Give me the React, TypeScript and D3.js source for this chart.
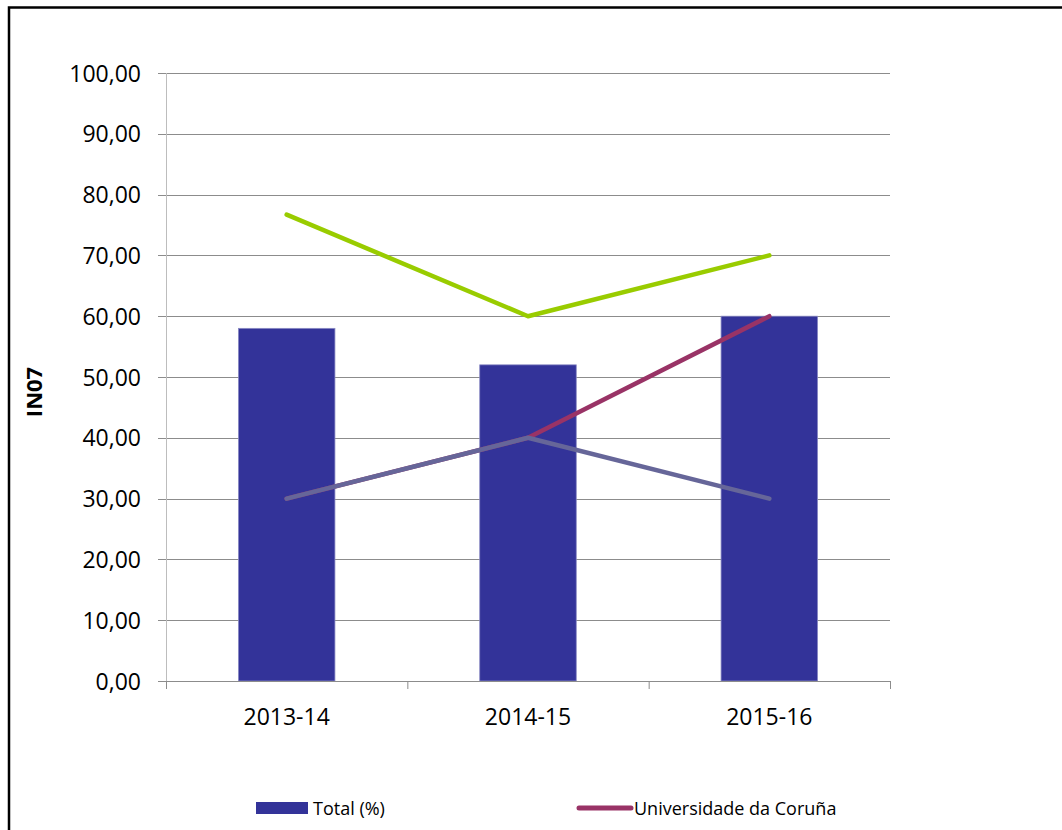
import React from "react";
import * as d3 from "d3";

const categories = ["2013-14", "2014-15", "2015-16"];
const totalPct = [58, 52, 60];
const universidade = [30, 40, 60];
const seriesGrey = [30, 40, 30];
const seriesGreen = [76.7, 60, 70];
const yTicks = [0, 10, 20, 30, 40, 50, 60, 70, 80, 90, 100];
const legendItems = [
  { label: "Total (%)", kind: "bar", color: "#333399" },
  { label: "Universidade da Coruña", kind: "line", color: "#993366" },
];

const W = 1062;
const H = 830;
const plot = { left: 166, right: 890, top: 73, bottom: 681 };
const FONT = "'Open Sans', 'Liberation Sans', sans-serif";

export default function App() {
  const x = d3
    .scaleBand<string>()
    .domain(categories)
    .range([plot.left, plot.right])
    .padding(0);
  const y = d3.scaleLinear().domain([0, 100]).range([plot.bottom, plot.top]);
  const bw = x.bandwidth() * 0.4;
  const cx = (c: string) => (x(c) as number) + x.bandwidth() / 2;

  const line = d3
    .line<number>()
    .x((_, i) => cx(categories[i]))
    .y((d) => y(d));

  const fmt = (v: number) => v.toFixed(2).replace(".", ",");
  const xTickPos = [...categories.map((c) => x(c) as number), plot.right];

  return (
    <svg
      width={W}
      height={H}
      style={{ position: "absolute", left: 0, top: 0, display: "block" }}
      fontFamily={FONT}
    >
      <rect x={0} y={0} width={W} height={H} fill="#fff" />
      <rect
        x={9}
        y={7.5}
        width={1200}
        height={1000}
        fill="none"
        stroke="#000"
        strokeWidth={2.5}
      />
      {yTicks.map((t) => (
        <line
          key={"g" + t}
          x1={plot.left - 8}
          x2={plot.right}
          y1={Math.round(y(t)) + 0.5}
          y2={Math.round(y(t)) + 0.5}
          stroke="#8c8c8c"
          strokeWidth={1}
        />
      ))}
      <line
        x1={plot.left + 0.5}
        x2={plot.left + 0.5}
        y1={plot.top}
        y2={plot.bottom}
        stroke="#bdbdbd"
        strokeWidth={1}
      />
      {yTicks.map((t) => (
        <text
          key={"yl" + t}
          x={141}
          y={y(t) + 8.5}
          textAnchor="end"
          fontSize={23}
          fill="#000"
        >
          {fmt(t)}
        </text>
      ))}
      {categories.map((c, i) => (
        <rect
          key={"b" + c}
          x={cx(c) - bw / 2}
          y={y(totalPct[i])}
          width={bw}
          height={plot.bottom - y(totalPct[i])}
          fill="#333399"
          stroke="#8a8ac4"
          strokeWidth={0.8}
        />
      ))}
      <line
        x1={plot.left}
        x2={plot.right}
        y1={plot.bottom + 0.5}
        y2={plot.bottom + 0.5}
        stroke="#8c8c8c"
        strokeWidth={1}
      />
      {xTickPos.map((p, i) => (
        <line
          key={"xt" + i}
          x1={p + 0.5}
          x2={p + 0.5}
          y1={plot.bottom}
          y2={plot.bottom + 8}
          stroke="#8c8c8c"
          strokeWidth={1}
        />
      ))}
      {categories.map((c) => (
        <text
          key={"xl" + c}
          x={cx(c)}
          y={725}
          textAnchor="middle"
          fontSize={23}
          fill="#000"
        >
          {c}
        </text>
      ))}
      <path
        d={line(universidade) || ""}
        fill="none"
        stroke="#993366"
        strokeWidth={4.5}
        strokeLinecap="round"
        strokeLinejoin="round"
      />
      <path
        d={line(seriesGrey) || ""}
        fill="none"
        stroke="#666699"
        strokeWidth={4.5}
        strokeLinecap="round"
        strokeLinejoin="round"
      />
      <path
        d={line(seriesGreen) || ""}
        fill="none"
        stroke="#99cc00"
        strokeWidth={4.5}
        strokeLinecap="round"
        strokeLinejoin="round"
      />
      <text
        transform={`translate(42, 392) rotate(-90)`}
        textAnchor="middle"
        fontSize={22}
        fontWeight="bold"
        fill="#000"
      >
        IN07
      </text>
      {legendItems.map((it, i) => {
        const lx = i === 0 ? 256 : 577;
        return (
          <g key={"lg" + i}>
            {it.kind === "bar" ? (
              <rect x={lx} y={802} width={52} height={12} fill={it.color} />
            ) : (
              <line
                x1={lx + 2}
                x2={lx + 54}
                y1={808}
                y2={808}
                stroke={it.color}
                strokeWidth={5}
                strokeLinecap="round"
              />
            )}
            <text x={lx + 57} y={814.5} fontSize={18} fill="#000">
              {it.label}
            </text>
          </g>
        );
      })}
    </svg>
  );
}
